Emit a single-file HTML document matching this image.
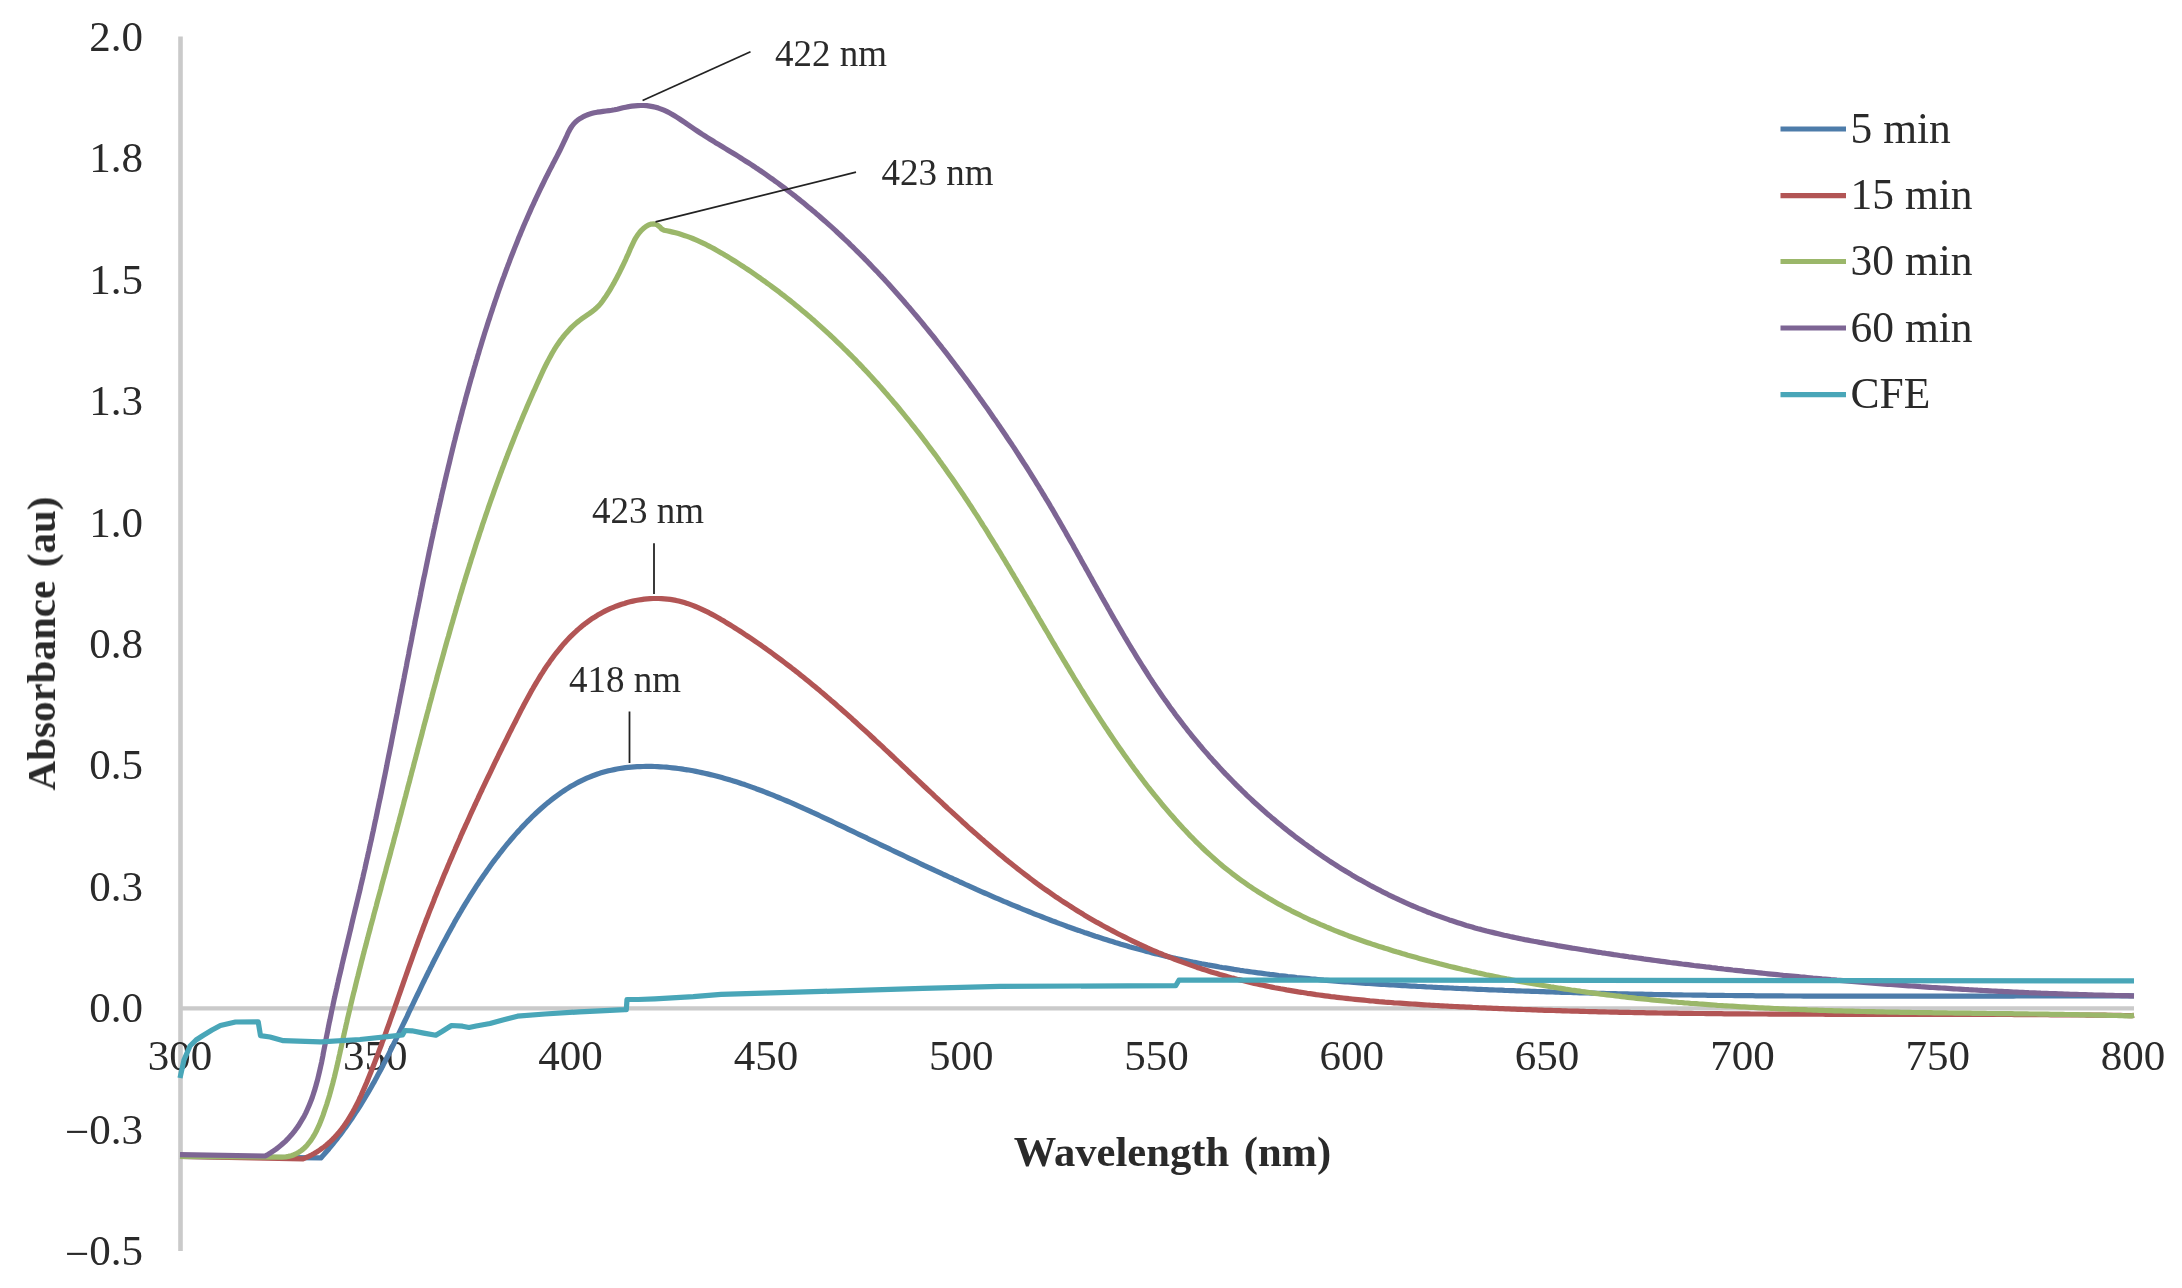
<!DOCTYPE html>
<html><head><meta charset="utf-8"><title>Absorbance spectra</title>
<style>html,body{margin:0;padding:0;background:#fff;overflow:hidden}svg{display:block}</style>
</head><body>
<svg width="2182" height="1288" viewBox="0 0 2182 1288">
<rect width="2182" height="1288" fill="#fff"/>
<defs><filter id="soft" x="-1%" y="-1%" width="102%" height="102%"><feGaussianBlur stdDeviation="0.7"/></filter></defs>
<g filter="url(#soft)">
<line x1="180.5" y1="36.5" x2="180.5" y2="1251" stroke="#cacaca" stroke-width="4.6"/>
<line x1="180" y1="1008.4" x2="2134" y2="1008.4" stroke="#cacaca" stroke-width="4.4"/>
<text x="143" y="51.0" text-anchor="end" font-family="'Liberation Serif', serif" font-size="43" fill="#2a2a2a">2.0</text>
<text x="143" y="172.4" text-anchor="end" font-family="'Liberation Serif', serif" font-size="43" fill="#2a2a2a">1.8</text>
<text x="143" y="293.8" text-anchor="end" font-family="'Liberation Serif', serif" font-size="43" fill="#2a2a2a">1.5</text>
<text x="143" y="415.2" text-anchor="end" font-family="'Liberation Serif', serif" font-size="43" fill="#2a2a2a">1.3</text>
<text x="143" y="536.6" text-anchor="end" font-family="'Liberation Serif', serif" font-size="43" fill="#2a2a2a">1.0</text>
<text x="143" y="658.0" text-anchor="end" font-family="'Liberation Serif', serif" font-size="43" fill="#2a2a2a">0.8</text>
<text x="143" y="779.4" text-anchor="end" font-family="'Liberation Serif', serif" font-size="43" fill="#2a2a2a">0.5</text>
<text x="143" y="900.8" text-anchor="end" font-family="'Liberation Serif', serif" font-size="43" fill="#2a2a2a">0.3</text>
<text x="143" y="1022.2" text-anchor="end" font-family="'Liberation Serif', serif" font-size="43" fill="#2a2a2a">0.0</text>
<text x="143" y="1143.6" text-anchor="end" font-family="'Liberation Serif', serif" font-size="43" fill="#2a2a2a"><tspan dy="2.5">−</tspan><tspan dy="-2.5">0.3</tspan></text>
<text x="143" y="1265.0" text-anchor="end" font-family="'Liberation Serif', serif" font-size="43" fill="#2a2a2a"><tspan dy="2.5">−</tspan><tspan dy="-2.5">0.5</tspan></text>
<text x="180.0" y="1070" text-anchor="middle" font-family="'Liberation Serif', serif" font-size="43" fill="#2a2a2a">300</text>
<text x="375.3" y="1070" text-anchor="middle" font-family="'Liberation Serif', serif" font-size="43" fill="#2a2a2a">350</text>
<text x="570.6" y="1070" text-anchor="middle" font-family="'Liberation Serif', serif" font-size="43" fill="#2a2a2a">400</text>
<text x="765.9" y="1070" text-anchor="middle" font-family="'Liberation Serif', serif" font-size="43" fill="#2a2a2a">450</text>
<text x="961.2" y="1070" text-anchor="middle" font-family="'Liberation Serif', serif" font-size="43" fill="#2a2a2a">500</text>
<text x="1156.5" y="1070" text-anchor="middle" font-family="'Liberation Serif', serif" font-size="43" fill="#2a2a2a">550</text>
<text x="1351.8" y="1070" text-anchor="middle" font-family="'Liberation Serif', serif" font-size="43" fill="#2a2a2a">600</text>
<text x="1547.1" y="1070" text-anchor="middle" font-family="'Liberation Serif', serif" font-size="43" fill="#2a2a2a">650</text>
<text x="1742.4" y="1070" text-anchor="middle" font-family="'Liberation Serif', serif" font-size="43" fill="#2a2a2a">700</text>
<text x="1937.7" y="1070" text-anchor="middle" font-family="'Liberation Serif', serif" font-size="43" fill="#2a2a2a">750</text>
<text x="2133.0" y="1070" text-anchor="middle" font-family="'Liberation Serif', serif" font-size="43" fill="#2a2a2a">800</text>
<text x="1172.5" y="1166" text-anchor="middle" font-family="'Liberation Serif', serif" font-size="42.6" font-weight="bold" word-spacing="4" fill="#2a2a2a">Wavelength (nm)</text>
<text transform="translate(55 643.5) rotate(-90)" x="0" y="0" text-anchor="middle" font-family="'Liberation Serif', serif" font-size="41" font-weight="bold" word-spacing="3.5" fill="#2a2a2a">Absorbance (au)</text>
<path d="M180.0 1156.5 L320.9 1157.9 L323.0 1155.6 L325.0 1153.3 L327.0 1151.0 L329.0 1148.7 L330.9 1146.4 L332.8 1144.1 L334.7 1141.7 L336.6 1139.4 L338.4 1137.0 L340.3 1134.6 L342.1 1132.2 L343.8 1129.8 L345.6 1127.4 L347.3 1125.0 L349.0 1122.6 L350.7 1120.1 L352.4 1117.7 L354.0 1115.2 L355.6 1112.7 L357.2 1110.3 L358.8 1107.8 L360.4 1105.3 L362.0 1102.7 L363.5 1100.2 L365.0 1097.7 L366.5 1095.2 L368.0 1092.6 L369.5 1090.1 L371.0 1087.5 L372.4 1084.9 L373.9 1082.4 L375.3 1079.8 L376.7 1077.2 L378.1 1074.6 L379.5 1072.0 L380.9 1069.4 L382.3 1066.8 L383.6 1064.1 L385.0 1061.5 L386.3 1058.9 L387.7 1056.2 L389.0 1053.6 L390.3 1050.9 L391.6 1048.3 L392.9 1045.6 L394.2 1043.0 L395.5 1040.3 L396.8 1037.6 L398.1 1035.0 L399.4 1032.3 L400.7 1029.6 L402.0 1026.9 L403.3 1024.2 L404.6 1021.5 L405.9 1018.8 L407.2 1016.1 L408.4 1013.4 L409.7 1010.7 L411.0 1008.0 L412.3 1005.3 L413.6 1002.6 L414.9 999.9 L416.2 997.2 L417.5 994.5 L418.8 991.8 L420.1 989.1 L421.4 986.4 L422.7 983.7 L424.0 981.0 L425.4 978.2 L426.7 975.5 L428.0 972.8 L429.4 970.1 L430.7 967.4 L432.1 964.7 L433.4 962.0 L434.8 959.3 L436.2 956.6 L437.6 953.9 L438.9 951.3 L440.3 948.6 L441.7 945.9 L443.1 943.2 L444.6 940.5 L446.0 937.9 L447.4 935.2 L448.9 932.5 L450.3 929.9 L451.8 927.2 L453.3 924.6 L454.7 921.9 L456.2 919.3 L457.7 916.7 L459.2 914.1 L460.8 911.5 L462.3 908.8 L463.9 906.2 L465.4 903.6 L467.0 901.1 L468.6 898.5 L470.2 895.9 L471.8 893.4 L473.4 890.8 L475.0 888.3 L476.7 885.7 L478.4 883.2 L480.0 880.7 L481.7 878.2 L483.4 875.7 L485.2 873.2 L486.9 870.7 L488.7 868.2 L490.4 865.8 L492.2 863.3 L494.0 860.9 L495.8 858.5 L497.7 856.1 L499.5 853.7 L501.4 851.3 L503.3 848.9 L505.2 846.5 L507.1 844.2 L509.1 841.8 L511.0 839.5 L513.0 837.2 L515.0 834.9 L517.0 832.6 L519.1 830.4 L521.1 828.1 L523.2 825.9 L525.3 823.7 L527.4 821.5 L529.6 819.4 L531.7 817.2 L533.9 815.1 L536.1 813.0 L538.3 811.0 L540.5 809.0 L542.8 807.0 L545.1 805.0 L547.3 803.1 L549.7 801.2 L552.0 799.4 L554.3 797.6 L556.7 795.8 L559.1 794.1 L561.5 792.4 L564.0 790.8 L566.4 789.2 L568.9 787.6 L571.4 786.1 L573.9 784.7 L576.4 783.3 L579.0 781.9 L581.6 780.6 L584.2 779.4 L586.8 778.2 L589.4 777.1 L592.1 776.0 L594.8 775.0 L597.5 774.0 L600.2 773.1 L602.9 772.3 L605.7 771.5 L608.5 770.8 L611.3 770.2 L614.1 769.6 L616.9 769.0 L619.8 768.5 L622.6 768.1 L625.5 767.7 L628.4 767.4 L631.3 767.1 L634.2 766.9 L637.1 766.7 L640.0 766.6 L643.0 766.5 L645.9 766.4 L648.8 766.4 L651.8 766.4 L654.7 766.5 L657.7 766.6 L660.6 766.8 L663.6 767.0 L666.5 767.2 L669.5 767.5 L672.5 767.8 L675.4 768.1 L678.3 768.5 L681.3 768.9 L684.2 769.4 L687.1 769.8 L690.1 770.3 L693.0 770.8 L695.9 771.4 L698.8 772.0 L701.7 772.6 L704.6 773.2 L707.5 773.9 L710.4 774.6 L713.3 775.3 L716.2 776.0 L719.1 776.8 L721.9 777.6 L724.8 778.4 L727.7 779.2 L730.5 780.1 L733.4 780.9 L736.2 781.8 L739.1 782.7 L741.9 783.7 L744.8 784.6 L747.6 785.6 L750.4 786.6 L753.3 787.6 L756.1 788.7 L758.9 789.7 L761.8 790.8 L764.6 791.9 L767.4 793.0 L770.2 794.1 L773.0 795.2 L775.8 796.3 L778.6 797.5 L781.4 798.7 L784.2 799.8 L787.0 801.0 L789.8 802.2 L792.6 803.4 L795.4 804.7 L798.1 805.9 L800.9 807.1 L803.7 808.4 L806.5 809.6 L809.3 810.9 L812.0 812.2 L814.8 813.4 L817.6 814.7 L820.3 816.0 L823.1 817.3 L825.9 818.6 L828.6 819.9 L831.4 821.2 L834.1 822.5 L836.9 823.8 L839.6 825.1 L842.4 826.4 L845.1 827.7 L847.9 829.1 L850.6 830.4 L853.4 831.7 L856.1 833.0 L858.9 834.3 L861.6 835.6 L864.4 836.9 L867.1 838.2 L869.8 839.6 L872.6 840.9 L875.3 842.2 L878.1 843.5 L880.8 844.8 L883.5 846.1 L886.3 847.4 L889.0 848.7 L891.7 850.0 L894.5 851.3 L897.2 852.6 L899.9 853.9 L902.7 855.2 L905.4 856.5 L908.1 857.8 L910.8 859.1 L913.6 860.4 L916.3 861.7 L919.0 863.0 L921.8 864.3 L924.5 865.6 L927.2 866.8 L930.0 868.1 L932.7 869.4 L935.4 870.7 L938.1 871.9 L940.9 873.2 L943.6 874.5 L946.3 875.7 L949.1 877.0 L951.8 878.2 L954.5 879.5 L957.3 880.7 L960.0 882.0 L962.7 883.2 L965.5 884.5 L968.2 885.7 L970.9 886.9 L973.7 888.1 L976.4 889.4 L979.1 890.6 L981.9 891.8 L984.6 893.0 L987.4 894.2 L990.1 895.4 L992.8 896.6 L995.6 897.8 L998.3 898.9 L1001.1 900.1 L1003.8 901.3 L1006.6 902.4 L1009.3 903.6 L1012.1 904.8 L1014.8 905.9 L1017.6 907.0 L1020.3 908.2 L1023.1 909.3 L1025.8 910.4 L1028.6 911.5 L1031.4 912.7 L1034.1 913.8 L1036.9 914.9 L1039.7 915.9 L1042.4 917.0 L1045.2 918.1 L1048.0 919.2 L1050.7 920.2 L1053.5 921.3 L1056.3 922.3 L1059.1 923.4 L1061.9 924.4 L1064.6 925.4 L1067.4 926.5 L1070.2 927.5 L1073.0 928.5 L1075.8 929.5 L1078.6 930.4 L1081.4 931.4 L1084.2 932.4 L1087.0 933.3 L1089.8 934.3 L1092.6 935.2 L1095.4 936.2 L1098.2 937.1 L1101.1 938.0 L1103.9 938.9 L1106.7 939.8 L1109.5 940.7 L1112.4 941.6 L1115.2 942.5 L1118.0 943.3 L1120.9 944.2 L1123.7 945.0 L1126.5 945.8 L1129.4 946.7 L1132.2 947.5 L1135.1 948.3 L1138.0 949.1 L1140.8 949.8 L1143.7 950.6 L1146.6 951.4 L1149.4 952.1 L1152.3 952.9 L1155.2 953.6 L1158.1 954.3 L1160.9 955.0 L1163.8 955.7 L1166.7 956.4 L1169.6 957.0 L1172.5 957.7 L1175.4 958.4 L1178.3 959.0 L1181.2 959.6 L1184.2 960.2 L1187.1 960.9 L1190.0 961.5 L1192.9 962.1 L1195.8 962.6 L1198.8 963.2 L1201.7 963.8 L1204.6 964.3 L1207.6 964.9 L1210.5 965.4 L1213.5 965.9 L1216.4 966.4 L1219.4 967.0 L1222.3 967.5 L1225.3 967.9 L1228.2 968.4 L1231.2 968.9 L1234.1 969.4 L1237.1 969.8 L1240.1 970.3 L1243.0 970.7 L1246.0 971.2 L1249.0 971.6 L1251.9 972.0 L1254.9 972.4 L1257.9 972.8 L1260.9 973.2 L1263.9 973.6 L1266.8 974.0 L1269.8 974.4 L1272.8 974.7 L1275.8 975.1 L1278.8 975.5 L1281.8 975.8 L1284.8 976.1 L1287.8 976.5 L1290.8 976.8 L1293.8 977.1 L1296.8 977.5 L1299.8 977.8 L1302.8 978.1 L1305.8 978.4 L1308.8 978.7 L1311.8 979.0 L1314.8 979.2 L1317.8 979.5 L1320.8 979.8 L1323.8 980.1 L1326.8 980.3 L1329.9 980.6 L1332.9 980.8 L1335.9 981.1 L1338.9 981.3 L1341.9 981.6 L1344.9 981.8 L1348.0 982.0 L1351.0 982.2 L1354.0 982.5 L1357.0 982.7 L1360.0 982.9 L1363.0 983.1 L1366.1 983.3 L1369.1 983.5 L1372.1 983.7 L1375.1 983.9 L1378.1 984.1 L1381.2 984.3 L1384.2 984.5 L1387.2 984.7 L1390.2 984.9 L1393.2 985.0 L1396.3 985.2 L1399.3 985.4 L1402.3 985.6 L1405.3 985.7 L1408.3 985.9 L1411.4 986.1 L1414.4 986.2 L1417.4 986.4 L1420.4 986.5 L1423.4 986.7 L1426.4 986.9 L1429.5 987.0 L1432.5 987.2 L1435.5 987.3 L1438.5 987.5 L1441.5 987.6 L1444.5 987.8 L1447.5 987.9 L1450.5 988.0 L1453.5 988.2 L1456.6 988.3 L1459.6 988.5 L1462.6 988.6 L1465.6 988.7 L1468.6 988.9 L1471.6 989.0 L1474.6 989.1 L1477.6 989.3 L1480.6 989.4 L1483.6 989.5 L1486.6 989.6 L1489.6 989.8 L1492.6 989.9 L1495.6 990.0 L1498.6 990.1 L1501.6 990.2 L1504.6 990.4 L1507.6 990.5 L1510.6 990.6 L1513.6 990.7 L1516.6 990.8 L1519.6 990.9 L1522.6 991.0 L1525.6 991.1 L1528.6 991.2 L1531.6 991.3 L1534.6 991.4 L1537.6 991.5 L1540.6 991.6 L1543.6 991.7 L1546.6 991.8 L1549.6 991.9 L1552.6 992.0 L1555.6 992.1 L1558.6 992.2 L1561.6 992.3 L1564.6 992.4 L1567.6 992.5 L1570.6 992.5 L1573.6 992.6 L1576.6 992.7 L1579.6 992.8 L1582.5 992.9 L1585.5 993.0 L1588.5 993.0 L1591.5 993.1 L1594.5 993.2 L1597.5 993.3 L1600.5 993.3 L1603.5 993.4 L1606.5 993.5 L1609.5 993.5 L1612.5 993.6 L1615.4 993.7 L1618.4 993.8 L1621.4 993.8 L1624.4 993.9 L1627.4 993.9 L1630.4 994.0 L1633.4 994.1 L1636.4 994.1 L1639.3 994.2 L1642.3 994.2 L1645.3 994.3 L1648.3 994.4 L1651.3 994.4 L1654.3 994.5 L1657.3 994.5 L1660.3 994.6 L1663.2 994.6 L1666.2 994.7 L1669.2 994.7 L1672.2 994.8 L1675.2 994.8 L1678.2 994.9 L1681.2 994.9 L1684.1 995.0 L1687.1 995.0 L1690.1 995.0 L1693.1 995.1 L1696.1 995.1 L1699.1 995.2 L1702.1 995.2 L1705.0 995.2 L1708.0 995.3 L1711.0 995.3 L1714.0 995.3 L1717.0 995.4 L1720.0 995.4 L1723.0 995.4 L1725.9 995.5 L1728.9 995.5 L1731.9 995.5 L1734.9 995.6 L1737.9 995.6 L1740.9 995.6 L1743.8 995.7 L1746.8 995.7 L1749.8 995.7 L1752.8 995.7 L1755.8 995.8 L1758.8 995.8 L1761.8 995.8 L1764.7 995.8 L1767.7 995.8 L1770.7 995.9 L1773.7 995.9 L1776.7 995.9 L1779.7 995.9 L1782.7 995.9 L1785.6 996.0 L1788.6 996.0 L1791.6 996.0 L1794.6 996.0 L1797.6 996.0 L1800.6 996.0 L1803.6 996.1 L1806.5 996.1 L1809.5 996.1 L1812.5 996.1 L1815.5 996.1 L1818.5 996.1 L1821.5 996.1 L1824.5 996.1 L1827.5 996.1 L1830.4 996.2 L1833.4 996.2 L1836.4 996.2 L1839.4 996.2 L1842.4 996.2 L1845.4 996.2 L1848.4 996.2 L1851.4 996.2 L1854.4 996.2 L1857.3 996.2 L1860.3 996.2 L1863.3 996.2 L1866.3 996.2 L1869.3 996.2 L1872.3 996.2 L1875.3 996.2 L1878.3 996.2 L1881.3 996.2 L1884.3 996.2 L1887.3 996.2 L1890.3 996.2 L1893.2 996.2 L1896.2 996.2 L1899.2 996.2 L1902.2 996.2 L1905.2 996.2 L1908.2 996.2 L1911.2 996.2 L1914.2 996.2 L1917.2 996.2 L1920.2 996.2 L1923.2 996.2 L1926.2 996.2 L1929.2 996.2 L1932.2 996.2 L1935.2 996.2 L1938.2 996.2 L1941.2 996.2 L1944.2 996.2 L1947.2 996.2 L1950.2 996.2 L1953.2 996.2 L1956.2 996.2 L1959.2 996.2 L1962.2 996.2 L1965.2 996.2 L1968.2 996.2 L1971.2 996.1 L1974.2 996.1 L1977.2 996.1 L1980.2 996.1 L1983.2 996.1 L1986.2 996.1 L1989.2 996.1 L1992.2 996.1 L1995.3 996.1 L1998.3 996.1 L2001.3 996.1 L2004.3 996.1 L2007.3 996.1 L2010.3 996.1 L2013.3 996.1 L2016.3 996.0 L2019.3 996.0 L2022.3 996.0 L2025.4 996.0 L2028.4 996.0 L2031.4 996.0 L2034.4 996.0 L2037.4 996.0 L2040.4 996.0 L2043.4 996.0 L2046.5 996.0 L2049.5 996.0 L2052.5 996.0 L2055.5 996.0 L2058.5 996.0 L2061.6 996.0 L2064.6 996.0 L2067.6 995.9 L2070.6 995.9 L2073.7 995.9 L2076.7 995.9 L2079.7 995.9 L2082.7 995.9 L2085.7 995.9 L2088.8 995.9 L2091.8 995.9 L2094.8 995.9 L2097.9 995.9 L2100.9 995.9 L2103.9 995.9 L2106.9 995.9 L2110.0 995.9 L2113.0 995.9 L2116.0 995.9 L2119.1 995.9 L2122.1 995.9 L2125.2 995.9 L2128.2 995.9 L2131.2 995.9 L2134.0 996.0" fill="none" stroke="#4e7caa" stroke-width="5.2" stroke-linejoin="round" stroke-linecap="butt"/>
<path d="M180.0 1156.5 L303.0 1158.9 L305.9 1157.7 L308.8 1156.4 L311.5 1155.0 L314.2 1153.5 L316.7 1152.0 L319.2 1150.4 L321.6 1148.7 L324.0 1147.0 L326.2 1145.2 L328.4 1143.3 L330.5 1141.4 L332.6 1139.4 L334.6 1137.3 L336.5 1135.2 L338.4 1133.1 L340.2 1130.9 L342.0 1128.6 L343.7 1126.3 L345.3 1124.0 L347.0 1121.6 L348.5 1119.1 L350.0 1116.7 L351.5 1114.2 L353.0 1111.6 L354.4 1109.0 L355.7 1106.4 L357.1 1103.8 L358.4 1101.2 L359.6 1098.5 L360.9 1095.8 L362.1 1093.0 L363.3 1090.3 L364.5 1087.6 L365.7 1084.8 L366.9 1082.0 L368.0 1079.2 L369.1 1076.4 L370.3 1073.6 L371.4 1070.8 L372.5 1068.0 L373.6 1065.2 L374.7 1062.3 L375.8 1059.5 L376.9 1056.7 L378.0 1053.8 L379.0 1051.0 L380.1 1048.1 L381.2 1045.3 L382.2 1042.4 L383.3 1039.6 L384.3 1036.7 L385.4 1033.9 L386.4 1031.0 L387.4 1028.1 L388.5 1025.3 L389.5 1022.4 L390.5 1019.5 L391.5 1016.6 L392.5 1013.8 L393.6 1010.9 L394.6 1008.0 L395.6 1005.1 L396.6 1002.3 L397.6 999.4 L398.6 996.5 L399.6 993.7 L400.6 990.8 L401.6 987.9 L402.6 985.1 L403.6 982.2 L404.6 979.3 L405.6 976.5 L406.6 973.6 L407.6 970.8 L408.6 967.9 L409.6 965.1 L410.7 962.2 L411.7 959.4 L412.7 956.5 L413.7 953.7 L414.7 950.9 L415.7 948.1 L416.8 945.3 L417.8 942.4 L418.8 939.6 L419.9 936.8 L420.9 934.0 L421.9 931.3 L423.0 928.5 L424.0 925.7 L425.1 922.9 L426.1 920.1 L427.2 917.4 L428.3 914.6 L429.3 911.9 L430.4 909.1 L431.5 906.4 L432.6 903.6 L433.7 900.9 L434.7 898.1 L435.8 895.4 L436.9 892.7 L438.0 889.9 L439.1 887.2 L440.3 884.5 L441.4 881.8 L442.5 879.0 L443.6 876.3 L444.7 873.6 L445.9 870.9 L447.0 868.2 L448.1 865.5 L449.3 862.8 L450.4 860.1 L451.6 857.4 L452.7 854.7 L453.9 852.0 L455.1 849.3 L456.2 846.6 L457.4 843.9 L458.6 841.2 L459.8 838.5 L460.9 835.8 L462.1 833.1 L463.3 830.4 L464.5 827.8 L465.7 825.1 L467.0 822.4 L468.2 819.7 L469.4 817.0 L470.6 814.3 L471.8 811.6 L473.1 808.9 L474.3 806.2 L475.6 803.5 L476.8 800.8 L478.1 798.1 L479.3 795.4 L480.6 792.7 L481.9 790.0 L483.1 787.3 L484.4 784.6 L485.7 781.9 L487.0 779.2 L488.3 776.5 L489.6 773.8 L490.9 771.1 L492.2 768.4 L493.5 765.6 L494.8 762.9 L496.1 760.2 L497.5 757.5 L498.8 754.7 L500.1 752.0 L501.5 749.3 L502.8 746.5 L504.2 743.8 L505.6 741.0 L506.9 738.3 L508.3 735.5 L509.7 732.7 L511.1 730.0 L512.5 727.2 L513.9 724.4 L515.3 721.7 L516.7 718.9 L518.1 716.1 L519.5 713.3 L520.9 710.5 L522.4 707.8 L523.8 705.0 L525.3 702.2 L526.8 699.5 L528.3 696.7 L529.8 694.0 L531.3 691.2 L532.9 688.5 L534.4 685.8 L536.0 683.1 L537.6 680.5 L539.2 677.8 L540.8 675.2 L542.5 672.6 L544.1 670.0 L545.8 667.4 L547.5 664.9 L549.3 662.4 L551.0 659.9 L552.8 657.4 L554.6 655.0 L556.5 652.6 L558.4 650.3 L560.3 648.0 L562.2 645.7 L564.1 643.4 L566.1 641.2 L568.2 639.0 L570.2 636.9 L572.3 634.8 L574.4 632.8 L576.6 630.8 L578.8 628.9 L581.0 627.0 L583.3 625.1 L585.6 623.3 L587.9 621.6 L590.3 619.9 L592.7 618.2 L595.2 616.7 L597.7 615.1 L600.2 613.7 L602.8 612.3 L605.4 610.9 L608.0 609.7 L610.7 608.4 L613.4 607.3 L616.1 606.2 L618.8 605.2 L621.6 604.2 L624.4 603.4 L627.2 602.5 L630.0 601.8 L632.9 601.1 L635.7 600.5 L638.6 600.0 L641.4 599.6 L644.3 599.2 L647.2 598.9 L650.1 598.7 L653.0 598.5 L655.8 598.5 L658.7 598.5 L661.6 598.6 L664.5 598.8 L667.4 599.1 L670.2 599.4 L673.1 599.9 L675.9 600.4 L678.7 601.1 L681.5 601.8 L684.3 602.6 L687.1 603.4 L689.9 604.4 L692.6 605.4 L695.4 606.5 L698.1 607.6 L700.8 608.8 L703.5 610.1 L706.2 611.4 L708.9 612.7 L711.5 614.1 L714.2 615.6 L716.8 617.0 L719.5 618.5 L722.1 620.1 L724.7 621.6 L727.3 623.2 L729.9 624.8 L732.5 626.4 L735.0 628.0 L737.6 629.6 L740.2 631.3 L742.7 632.9 L745.2 634.6 L747.7 636.2 L750.3 637.9 L752.8 639.6 L755.3 641.3 L757.7 643.0 L760.2 644.7 L762.7 646.5 L765.1 648.2 L767.6 650.0 L770.0 651.7 L772.5 653.5 L774.9 655.3 L777.3 657.1 L779.7 658.9 L782.1 660.7 L784.5 662.5 L786.9 664.3 L789.3 666.1 L791.7 668.0 L794.1 669.8 L796.4 671.7 L798.8 673.5 L801.1 675.4 L803.5 677.3 L805.8 679.2 L808.1 681.1 L810.5 683.0 L812.8 684.9 L815.1 686.8 L817.4 688.7 L819.7 690.6 L822.0 692.6 L824.3 694.5 L826.6 696.5 L828.9 698.4 L831.1 700.4 L833.4 702.3 L835.7 704.3 L837.9 706.3 L840.2 708.3 L842.4 710.2 L844.7 712.2 L846.9 714.2 L849.2 716.2 L851.4 718.2 L853.6 720.3 L855.9 722.3 L858.1 724.3 L860.3 726.3 L862.5 728.3 L864.8 730.4 L867.0 732.4 L869.2 734.4 L871.4 736.5 L873.6 738.5 L875.8 740.6 L878.0 742.6 L880.2 744.7 L882.4 746.7 L884.6 748.8 L886.8 750.8 L889.0 752.9 L891.2 755.0 L893.4 757.0 L895.5 759.1 L897.7 761.2 L899.9 763.2 L902.1 765.3 L904.3 767.4 L906.5 769.4 L908.6 771.5 L910.8 773.6 L913.0 775.6 L915.2 777.7 L917.4 779.8 L919.6 781.9 L921.7 783.9 L923.9 786.0 L926.1 788.0 L928.3 790.1 L930.5 792.2 L932.7 794.2 L934.9 796.3 L937.1 798.3 L939.3 800.4 L941.5 802.4 L943.6 804.5 L945.8 806.5 L948.0 808.6 L950.3 810.6 L952.5 812.6 L954.7 814.7 L956.9 816.7 L959.1 818.7 L961.3 820.7 L963.5 822.8 L965.8 824.8 L968.0 826.8 L970.2 828.8 L972.4 830.7 L974.7 832.7 L976.9 834.7 L979.2 836.7 L981.4 838.7 L983.7 840.6 L985.9 842.6 L988.2 844.5 L990.5 846.5 L992.7 848.4 L995.0 850.3 L997.3 852.2 L999.6 854.2 L1001.9 856.1 L1004.2 858.0 L1006.5 859.9 L1008.8 861.7 L1011.1 863.6 L1013.5 865.5 L1015.8 867.3 L1018.1 869.2 L1020.5 871.0 L1022.8 872.8 L1025.2 874.6 L1027.6 876.4 L1029.9 878.2 L1032.3 880.0 L1034.7 881.8 L1037.1 883.6 L1039.5 885.3 L1041.9 887.1 L1044.3 888.8 L1046.8 890.5 L1049.2 892.2 L1051.6 893.9 L1054.1 895.6 L1056.5 897.3 L1059.0 898.9 L1061.5 900.6 L1064.0 902.2 L1066.5 903.8 L1069.0 905.4 L1071.5 907.0 L1074.0 908.6 L1076.5 910.2 L1079.0 911.8 L1081.6 913.3 L1084.1 914.9 L1086.7 916.4 L1089.2 917.9 L1091.8 919.4 L1094.4 920.9 L1097.0 922.4 L1099.6 923.8 L1102.1 925.3 L1104.8 926.7 L1107.4 928.1 L1110.0 929.5 L1112.6 930.9 L1115.2 932.3 L1117.9 933.7 L1120.5 935.0 L1123.2 936.4 L1125.8 937.7 L1128.5 939.0 L1131.2 940.3 L1133.8 941.6 L1136.5 942.9 L1139.2 944.2 L1141.9 945.4 L1144.6 946.6 L1147.3 947.9 L1150.0 949.1 L1152.8 950.3 L1155.5 951.4 L1158.2 952.6 L1161.0 953.7 L1163.7 954.9 L1166.5 956.0 L1169.2 957.1 L1172.0 958.2 L1174.7 959.3 L1177.5 960.3 L1180.3 961.4 L1183.1 962.4 L1185.9 963.4 L1188.7 964.4 L1191.5 965.4 L1194.3 966.4 L1197.1 967.4 L1199.9 968.3 L1202.7 969.2 L1205.6 970.1 L1208.4 971.0 L1211.2 971.9 L1214.1 972.8 L1216.9 973.6 L1219.8 974.5 L1222.6 975.3 L1225.5 976.1 L1228.4 976.9 L1231.2 977.7 L1234.1 978.4 L1237.0 979.2 L1239.9 979.9 L1242.7 980.6 L1245.6 981.3 L1248.5 982.0 L1251.4 982.7 L1254.3 983.4 L1257.2 984.0 L1260.2 984.7 L1263.1 985.3 L1266.0 985.9 L1268.9 986.5 L1271.8 987.1 L1274.8 987.7 L1277.7 988.2 L1280.6 988.8 L1283.6 989.3 L1286.5 989.9 L1289.5 990.4 L1292.4 990.9 L1295.4 991.4 L1298.3 991.9 L1301.3 992.3 L1304.3 992.8 L1307.2 993.3 L1310.2 993.7 L1313.2 994.1 L1316.1 994.6 L1319.1 995.0 L1322.1 995.4 L1325.1 995.8 L1328.0 996.2 L1331.0 996.6 L1334.0 996.9 L1337.0 997.3 L1340.0 997.7 L1343.0 998.0 L1346.0 998.3 L1349.0 998.7 L1352.0 999.0 L1355.0 999.3 L1358.0 999.6 L1361.0 999.9 L1364.0 1000.2 L1367.0 1000.5 L1370.0 1000.8 L1373.0 1001.0 L1376.0 1001.3 L1379.0 1001.6 L1382.0 1001.8 L1385.0 1002.1 L1388.1 1002.3 L1391.1 1002.5 L1394.1 1002.8 L1397.1 1003.0 L1400.1 1003.2 L1403.1 1003.4 L1406.2 1003.6 L1409.2 1003.8 L1412.2 1004.0 L1415.2 1004.2 L1418.2 1004.4 L1421.2 1004.6 L1424.3 1004.8 L1427.3 1005.0 L1430.3 1005.2 L1433.3 1005.3 L1436.3 1005.5 L1439.4 1005.7 L1442.4 1005.8 L1445.4 1006.0 L1448.4 1006.2 L1451.4 1006.3 L1454.5 1006.5 L1457.5 1006.6 L1460.5 1006.8 L1463.5 1006.9 L1466.5 1007.1 L1469.5 1007.2 L1472.6 1007.4 L1475.6 1007.5 L1478.6 1007.7 L1481.6 1007.8 L1484.6 1007.9 L1487.6 1008.1 L1490.6 1008.2 L1493.6 1008.3 L1496.6 1008.4 L1499.7 1008.6 L1502.7 1008.7 L1505.7 1008.8 L1508.7 1008.9 L1511.7 1009.1 L1514.7 1009.2 L1517.7 1009.3 L1520.7 1009.4 L1523.7 1009.5 L1526.7 1009.6 L1529.7 1009.7 L1532.7 1009.8 L1535.7 1009.9 L1538.7 1010.1 L1541.7 1010.2 L1544.7 1010.3 L1547.7 1010.4 L1550.7 1010.4 L1553.7 1010.5 L1556.7 1010.6 L1559.7 1010.7 L1562.7 1010.8 L1565.7 1010.9 L1568.7 1011.0 L1571.7 1011.1 L1574.7 1011.2 L1577.7 1011.2 L1580.7 1011.3 L1583.7 1011.4 L1586.7 1011.5 L1589.7 1011.6 L1592.7 1011.6 L1595.7 1011.7 L1598.7 1011.8 L1601.7 1011.9 L1604.7 1011.9 L1607.7 1012.0 L1610.7 1012.1 L1613.7 1012.1 L1616.7 1012.2 L1619.7 1012.3 L1622.7 1012.3 L1625.7 1012.4 L1628.7 1012.4 L1631.6 1012.5 L1634.6 1012.6 L1637.6 1012.6 L1640.6 1012.7 L1643.6 1012.7 L1646.6 1012.8 L1649.6 1012.8 L1652.6 1012.9 L1655.6 1012.9 L1658.6 1013.0 L1661.6 1013.0 L1664.6 1013.1 L1667.5 1013.1 L1670.5 1013.1 L1673.5 1013.2 L1676.5 1013.2 L1679.5 1013.3 L1682.5 1013.3 L1685.5 1013.3 L1688.5 1013.4 L1691.5 1013.4 L1694.4 1013.5 L1697.4 1013.5 L1700.4 1013.5 L1703.4 1013.5 L1706.4 1013.6 L1709.4 1013.6 L1712.4 1013.6 L1715.4 1013.7 L1718.4 1013.7 L1721.3 1013.7 L1724.3 1013.8 L1727.3 1013.8 L1730.3 1013.8 L1733.3 1013.8 L1736.3 1013.8 L1739.3 1013.9 L1742.3 1013.9 L1745.2 1013.9 L1748.2 1013.9 L1751.2 1014.0 L1754.2 1014.0 L1757.2 1014.0 L1760.2 1014.0 L1763.2 1014.0 L1766.2 1014.0 L1769.1 1014.1 L1772.1 1014.1 L1775.1 1014.1 L1778.1 1014.1 L1781.1 1014.1 L1784.1 1014.1 L1787.1 1014.1 L1790.1 1014.1 L1793.0 1014.2 L1796.0 1014.2 L1799.0 1014.2 L1802.0 1014.2 L1805.0 1014.2 L1808.0 1014.2 L1811.0 1014.2 L1814.0 1014.2 L1816.9 1014.2 L1819.9 1014.2 L1822.9 1014.2 L1825.9 1014.3 L1828.9 1014.3 L1831.9 1014.3 L1834.9 1014.3 L1837.9 1014.3 L1840.9 1014.3 L1843.8 1014.3 L1846.8 1014.3 L1849.8 1014.3 L1852.8 1014.3 L1855.8 1014.3 L1858.8 1014.3 L1861.8 1014.3 L1864.8 1014.3 L1867.8 1014.3 L1870.8 1014.3 L1873.8 1014.3 L1876.7 1014.3 L1879.7 1014.3 L1882.7 1014.3 L1885.7 1014.3 L1888.7 1014.3 L1891.7 1014.3 L1894.7 1014.3 L1897.7 1014.3 L1900.7 1014.3 L1903.7 1014.3 L1906.7 1014.3 L1909.7 1014.3 L1912.7 1014.3 L1915.7 1014.4 L1918.7 1014.4 L1921.6 1014.4 L1924.6 1014.4 L1927.6 1014.4 L1930.6 1014.4 L1933.6 1014.4 L1936.6 1014.4 L1939.6 1014.4 L1942.6 1014.4 L1945.6 1014.4 L1948.6 1014.4 L1951.6 1014.4 L1954.6 1014.4 L1957.6 1014.4 L1960.6 1014.4 L1963.6 1014.4 L1966.6 1014.4 L1969.6 1014.4 L1972.6 1014.4 L1975.6 1014.4 L1978.6 1014.4 L1981.6 1014.5 L1984.6 1014.5 L1987.6 1014.5 L1990.6 1014.5 L1993.6 1014.5 L1996.6 1014.5 L1999.7 1014.5 L2002.7 1014.5 L2005.7 1014.5 L2008.7 1014.5 L2011.7 1014.5 L2014.7 1014.6 L2017.7 1014.6 L2020.7 1014.6 L2023.7 1014.6 L2026.7 1014.6 L2029.7 1014.6 L2032.7 1014.6 L2035.8 1014.7 L2038.8 1014.7 L2041.8 1014.7 L2044.8 1014.7 L2047.8 1014.7 L2050.8 1014.8 L2053.8 1014.8 L2056.8 1014.8 L2059.9 1014.8 L2062.9 1014.8 L2065.9 1014.9 L2068.9 1014.9 L2071.9 1014.9 L2074.9 1014.9 L2078.0 1015.0 L2081.0 1015.0 L2084.0 1015.0 L2087.0 1015.1 L2090.0 1015.1 L2093.1 1015.1 L2096.1 1015.1 L2099.1 1015.2 L2102.1 1015.2 L2105.2 1015.2 L2108.2 1015.3 L2111.2 1015.3 L2114.2 1015.4 L2117.3 1015.4 L2120.3 1015.4 L2123.3 1015.5 L2126.4 1015.5 L2129.4 1015.6 L2132.4 1015.6 L2134.0 1015.3" fill="none" stroke="#b25554" stroke-width="5.2" stroke-linejoin="round" stroke-linecap="butt"/>
<path d="M180.0 1156.5 L282.3 1157.2 L285.5 1157.0 L288.4 1156.4 L291.3 1155.7 L294.0 1154.7 L296.5 1153.6 L298.9 1152.2 L301.2 1150.6 L303.4 1148.9 L305.4 1147.0 L307.3 1144.9 L309.1 1142.7 L310.9 1140.4 L312.5 1137.9 L314.0 1135.4 L315.5 1132.7 L316.9 1130.0 L318.2 1127.2 L319.5 1124.4 L320.6 1121.5 L321.8 1118.5 L322.9 1115.6 L323.9 1112.6 L324.9 1109.7 L325.9 1106.7 L326.9 1103.8 L327.8 1100.8 L328.7 1097.9 L329.6 1094.9 L330.4 1092.0 L331.2 1089.0 L332.0 1086.1 L332.8 1083.2 L333.5 1080.3 L334.3 1077.3 L335.0 1074.4 L335.7 1071.5 L336.4 1068.6 L337.1 1065.7 L337.7 1062.8 L338.4 1059.8 L339.0 1056.9 L339.7 1054.0 L340.3 1051.1 L341.0 1048.2 L341.6 1045.3 L342.2 1042.4 L342.9 1039.5 L343.5 1036.6 L344.2 1033.7 L344.8 1030.8 L345.5 1027.9 L346.1 1025.0 L346.8 1022.1 L347.4 1019.2 L348.1 1016.3 L348.8 1013.4 L349.5 1010.5 L350.2 1007.6 L350.8 1004.7 L351.5 1001.8 L352.2 998.9 L352.9 996.0 L353.6 993.1 L354.4 990.2 L355.1 987.3 L355.8 984.4 L356.5 981.5 L357.2 978.6 L358.0 975.7 L358.7 972.8 L359.4 969.9 L360.2 967.0 L360.9 964.1 L361.6 961.2 L362.4 958.3 L363.1 955.4 L363.9 952.5 L364.6 949.6 L365.4 946.7 L366.2 943.8 L366.9 940.9 L367.7 938.0 L368.4 935.1 L369.2 932.2 L370.0 929.3 L370.7 926.4 L371.5 923.5 L372.3 920.6 L373.1 917.7 L373.8 914.8 L374.6 911.9 L375.4 909.0 L376.2 906.1 L376.9 903.2 L377.7 900.3 L378.5 897.4 L379.3 894.5 L380.1 891.6 L380.9 888.7 L381.6 885.7 L382.4 882.8 L383.2 879.9 L384.0 877.0 L384.8 874.1 L385.6 871.2 L386.3 868.3 L387.1 865.4 L387.9 862.5 L388.7 859.6 L389.5 856.7 L390.3 853.8 L391.0 850.9 L391.8 848.0 L392.6 845.1 L393.4 842.2 L394.1 839.3 L394.9 836.4 L395.7 833.5 L396.5 830.6 L397.2 827.7 L398.0 824.8 L398.8 821.9 L399.5 819.0 L400.3 816.1 L401.1 813.2 L401.8 810.3 L402.6 807.4 L403.4 804.4 L404.1 801.5 L404.9 798.6 L405.7 795.7 L406.4 792.8 L407.2 789.9 L407.9 787.0 L408.7 784.1 L409.5 781.2 L410.2 778.3 L411.0 775.4 L411.7 772.5 L412.5 769.6 L413.3 766.7 L414.0 763.8 L414.8 760.9 L415.6 758.0 L416.3 755.1 L417.1 752.2 L417.8 749.3 L418.6 746.4 L419.4 743.5 L420.1 740.6 L420.9 737.7 L421.7 734.8 L422.4 731.8 L423.2 728.9 L423.9 726.0 L424.7 723.1 L425.5 720.2 L426.3 717.3 L427.0 714.4 L427.8 711.6 L428.6 708.7 L429.3 705.8 L430.1 702.9 L430.9 700.0 L431.7 697.1 L432.4 694.2 L433.2 691.3 L434.0 688.4 L434.8 685.5 L435.6 682.6 L436.4 679.7 L437.1 676.8 L437.9 673.9 L438.7 671.0 L439.5 668.1 L440.3 665.2 L441.1 662.4 L441.9 659.5 L442.7 656.6 L443.5 653.7 L444.3 650.8 L445.1 647.9 L445.9 645.0 L446.7 642.1 L447.5 639.3 L448.4 636.4 L449.2 633.5 L450.0 630.6 L450.8 627.7 L451.6 624.9 L452.5 622.0 L453.3 619.1 L454.1 616.2 L455.0 613.3 L455.8 610.5 L456.6 607.6 L457.5 604.7 L458.3 601.9 L459.2 599.0 L460.0 596.1 L460.9 593.2 L461.8 590.4 L462.6 587.5 L463.5 584.6 L464.4 581.8 L465.2 578.9 L466.1 576.0 L467.0 573.2 L467.9 570.3 L468.8 567.5 L469.7 564.6 L470.6 561.7 L471.4 558.9 L472.4 556.0 L473.3 553.2 L474.2 550.3 L475.1 547.5 L476.0 544.6 L476.9 541.8 L477.9 538.9 L478.8 536.1 L479.7 533.2 L480.7 530.4 L481.6 527.6 L482.5 524.7 L483.5 521.9 L484.5 519.0 L485.4 516.2 L486.4 513.4 L487.4 510.5 L488.3 507.7 L489.3 504.9 L490.3 502.0 L491.3 499.2 L492.3 496.4 L493.3 493.6 L494.3 490.7 L495.3 487.9 L496.3 485.1 L497.3 482.3 L498.4 479.4 L499.4 476.6 L500.4 473.8 L501.5 471.0 L502.5 468.2 L503.6 465.4 L504.6 462.6 L505.7 459.8 L506.8 457.0 L507.8 454.2 L508.9 451.4 L510.0 448.6 L511.1 445.8 L512.2 443.0 L513.3 440.2 L514.4 437.4 L515.5 434.6 L516.6 431.8 L517.8 429.0 L518.9 426.2 L520.0 423.4 L521.2 420.7 L522.3 417.9 L523.5 415.1 L524.7 412.3 L525.9 409.5 L527.0 406.8 L528.2 404.0 L529.4 401.2 L530.6 398.5 L531.8 395.7 L533.0 392.9 L534.3 390.2 L535.5 387.4 L536.7 384.7 L538.0 381.9 L539.2 379.2 L540.5 376.4 L541.7 373.7 L543.0 370.9 L544.3 368.2 L545.6 365.5 L547.0 362.8 L548.4 360.1 L549.8 357.5 L551.2 354.9 L552.7 352.3 L554.2 349.7 L555.8 347.2 L557.4 344.7 L559.1 342.2 L560.8 339.8 L562.6 337.5 L564.5 335.2 L566.4 332.9 L568.4 330.7 L570.4 328.5 L572.6 326.4 L574.8 324.4 L577.1 322.4 L579.5 320.5 L581.9 318.7 L584.5 316.9 L587.0 315.2 L589.6 313.4 L592.0 311.6 L594.4 309.7 L596.7 307.7 L598.9 305.6 L600.8 303.4 L602.6 301.0 L604.3 298.6 L606.0 296.1 L607.6 293.6 L609.2 291.1 L610.7 288.6 L612.2 286.0 L613.7 283.4 L615.1 280.8 L616.5 278.2 L617.9 275.6 L619.3 272.9 L620.6 270.2 L621.9 267.5 L623.2 264.8 L624.5 262.1 L625.8 259.3 L627.0 256.5 L628.3 253.8 L629.5 250.9 L630.7 248.1 L632.0 245.3 L633.3 242.6 L634.6 239.9 L636.1 237.3 L637.7 234.8 L639.5 232.5 L641.4 230.3 L643.5 228.3 L645.9 226.5 L648.5 225.0 L651.3 224.1 L654.2 223.9 L657.1 224.9 L659.7 226.8 L661.6 228.9 L664.0 230.2 L666.8 230.8 L669.8 231.4 L672.7 232.1 L675.6 232.8 L678.5 233.6 L681.4 234.5 L684.2 235.4 L687.1 236.4 L689.9 237.4 L692.7 238.5 L695.4 239.7 L698.2 240.9 L700.9 242.1 L703.6 243.4 L706.3 244.7 L709.0 246.1 L711.7 247.5 L714.3 248.9 L717.0 250.4 L719.6 251.9 L722.2 253.4 L724.8 255.0 L727.4 256.5 L730.0 258.1 L732.5 259.7 L735.1 261.3 L737.6 262.9 L740.2 264.6 L742.7 266.2 L745.2 267.9 L747.7 269.5 L750.2 271.2 L752.7 272.9 L755.2 274.6 L757.6 276.3 L760.1 278.0 L762.5 279.8 L765.0 281.5 L767.4 283.3 L769.8 285.0 L772.2 286.8 L774.6 288.6 L777.0 290.4 L779.4 292.2 L781.8 294.1 L784.2 295.9 L786.5 297.7 L788.9 299.6 L791.2 301.4 L793.5 303.3 L795.8 305.2 L798.1 307.1 L800.4 309.0 L802.7 310.9 L805.0 312.8 L807.3 314.8 L809.6 316.7 L811.8 318.7 L814.1 320.6 L816.3 322.6 L818.5 324.6 L820.8 326.6 L823.0 328.6 L825.2 330.6 L827.4 332.6 L829.6 334.6 L831.7 336.7 L833.9 338.7 L836.1 340.8 L838.2 342.8 L840.4 344.9 L842.5 347.0 L844.6 349.1 L846.8 351.2 L848.9 353.3 L851.0 355.4 L853.1 357.5 L855.2 359.6 L857.2 361.8 L859.3 363.9 L861.4 366.1 L863.4 368.3 L865.5 370.4 L867.5 372.6 L869.5 374.8 L871.6 377.0 L873.6 379.2 L875.6 381.4 L877.6 383.6 L879.6 385.9 L881.6 388.1 L883.5 390.3 L885.5 392.6 L887.5 394.8 L889.4 397.1 L891.4 399.4 L893.3 401.7 L895.3 403.9 L897.2 406.2 L899.1 408.5 L901.0 410.8 L902.9 413.1 L904.8 415.5 L906.7 417.8 L908.6 420.1 L910.5 422.5 L912.3 424.8 L914.2 427.2 L916.0 429.5 L917.9 431.9 L919.7 434.2 L921.6 436.6 L923.4 439.0 L925.2 441.4 L927.0 443.8 L928.8 446.2 L930.6 448.6 L932.4 451.0 L934.2 453.4 L936.0 455.8 L937.8 458.2 L939.5 460.7 L941.3 463.1 L943.0 465.6 L944.8 468.0 L946.5 470.5 L948.2 472.9 L950.0 475.4 L951.7 477.8 L953.4 480.3 L955.1 482.8 L956.8 485.3 L958.5 487.8 L960.2 490.3 L961.9 492.7 L963.6 495.2 L965.2 497.8 L966.9 500.3 L968.6 502.8 L970.2 505.3 L971.9 507.8 L973.5 510.3 L975.1 512.9 L976.8 515.4 L978.4 517.9 L980.0 520.5 L981.6 523.0 L983.2 525.6 L984.9 528.1 L986.5 530.7 L988.0 533.2 L989.6 535.8 L991.2 538.3 L992.8 540.9 L994.4 543.5 L996.0 546.0 L997.5 548.6 L999.1 551.2 L1000.7 553.7 L1002.2 556.3 L1003.8 558.9 L1005.4 561.5 L1006.9 564.1 L1008.5 566.6 L1010.0 569.2 L1011.5 571.8 L1013.1 574.4 L1014.6 577.0 L1016.2 579.6 L1017.7 582.2 L1019.2 584.8 L1020.8 587.4 L1022.3 590.0 L1023.8 592.5 L1025.3 595.1 L1026.9 597.7 L1028.4 600.3 L1029.9 602.9 L1031.4 605.5 L1033.0 608.1 L1034.5 610.7 L1036.0 613.3 L1037.5 615.9 L1039.0 618.5 L1040.6 621.1 L1042.1 623.7 L1043.6 626.3 L1045.1 628.9 L1046.7 631.5 L1048.2 634.0 L1049.7 636.6 L1051.2 639.2 L1052.7 641.8 L1054.3 644.4 L1055.8 647.0 L1057.3 649.5 L1058.8 652.1 L1060.4 654.7 L1061.9 657.3 L1063.4 659.8 L1065.0 662.4 L1066.5 665.0 L1068.1 667.5 L1069.6 670.1 L1071.1 672.7 L1072.7 675.2 L1074.2 677.8 L1075.8 680.3 L1077.4 682.9 L1078.9 685.4 L1080.5 688.0 L1082.0 690.5 L1083.6 693.0 L1085.2 695.6 L1086.8 698.1 L1088.3 700.6 L1089.9 703.1 L1091.5 705.6 L1093.1 708.2 L1094.7 710.7 L1096.3 713.2 L1097.9 715.7 L1099.5 718.2 L1101.1 720.6 L1102.8 723.1 L1104.4 725.6 L1106.0 728.1 L1107.7 730.5 L1109.3 733.0 L1111.0 735.5 L1112.6 737.9 L1114.3 740.4 L1115.9 742.8 L1117.6 745.2 L1119.3 747.7 L1121.0 750.1 L1122.7 752.5 L1124.4 754.9 L1126.1 757.3 L1127.8 759.7 L1129.5 762.1 L1131.2 764.5 L1133.0 766.9 L1134.7 769.3 L1136.5 771.6 L1138.2 774.0 L1140.0 776.3 L1141.8 778.7 L1143.5 781.0 L1145.3 783.3 L1147.1 785.7 L1148.9 788.0 L1150.8 790.3 L1152.6 792.6 L1154.4 794.9 L1156.3 797.2 L1158.1 799.4 L1160.0 801.7 L1161.8 804.0 L1163.7 806.2 L1165.6 808.4 L1167.5 810.7 L1169.4 812.9 L1171.3 815.1 L1173.3 817.3 L1175.2 819.5 L1177.2 821.7 L1179.1 823.9 L1181.1 826.0 L1183.1 828.2 L1185.1 830.3 L1187.1 832.4 L1189.1 834.6 L1191.1 836.7 L1193.2 838.7 L1195.2 840.8 L1197.3 842.9 L1199.4 844.9 L1201.5 847.0 L1203.6 849.0 L1205.7 851.0 L1207.9 853.0 L1210.0 854.9 L1212.2 856.9 L1214.3 858.8 L1216.5 860.7 L1218.7 862.6 L1220.9 864.5 L1223.2 866.4 L1225.4 868.2 L1227.7 870.0 L1230.0 871.8 L1232.2 873.6 L1234.6 875.4 L1236.9 877.1 L1239.2 878.9 L1241.6 880.6 L1243.9 882.2 L1246.3 883.9 L1248.7 885.6 L1251.1 887.2 L1253.5 888.8 L1256.0 890.4 L1258.4 892.0 L1260.9 893.5 L1263.4 895.0 L1265.8 896.6 L1268.3 898.1 L1270.9 899.5 L1273.4 901.0 L1275.9 902.4 L1278.5 903.9 L1281.0 905.3 L1283.6 906.7 L1286.2 908.1 L1288.8 909.4 L1291.4 910.8 L1294.0 912.1 L1296.6 913.4 L1299.3 914.7 L1301.9 916.0 L1304.6 917.3 L1307.2 918.5 L1309.9 919.8 L1312.6 921.0 L1315.3 922.2 L1318.0 923.4 L1320.7 924.6 L1323.4 925.7 L1326.1 926.9 L1328.9 928.0 L1331.6 929.2 L1334.4 930.3 L1337.1 931.4 L1339.9 932.5 L1342.7 933.5 L1345.4 934.6 L1348.2 935.7 L1351.0 936.7 L1353.8 937.7 L1356.6 938.7 L1359.4 939.7 L1362.2 940.7 L1365.0 941.7 L1367.9 942.7 L1370.7 943.6 L1373.5 944.6 L1376.4 945.5 L1379.2 946.4 L1382.1 947.3 L1384.9 948.3 L1387.8 949.1 L1390.6 950.0 L1393.5 950.9 L1396.3 951.8 L1399.2 952.6 L1402.1 953.5 L1405.0 954.3 L1407.8 955.2 L1410.7 956.0 L1413.6 956.8 L1416.5 957.6 L1419.3 958.4 L1422.2 959.2 L1425.1 960.0 L1428.0 960.8 L1430.9 961.5 L1433.8 962.3 L1436.7 963.0 L1439.6 963.8 L1442.5 964.5 L1445.4 965.2 L1448.3 966.0 L1451.2 966.7 L1454.1 967.4 L1457.0 968.1 L1459.9 968.8 L1462.8 969.5 L1465.7 970.1 L1468.6 970.8 L1471.5 971.5 L1474.4 972.1 L1477.3 972.8 L1480.3 973.4 L1483.2 974.0 L1486.1 974.7 L1489.0 975.3 L1491.9 975.9 L1494.9 976.5 L1497.8 977.1 L1500.7 977.7 L1503.6 978.3 L1506.6 978.9 L1509.5 979.4 L1512.4 980.0 L1515.4 980.6 L1518.3 981.1 L1521.2 981.7 L1524.2 982.2 L1527.1 982.7 L1530.0 983.3 L1533.0 983.8 L1535.9 984.3 L1538.9 984.8 L1541.8 985.3 L1544.8 985.8 L1547.7 986.3 L1550.7 986.8 L1553.6 987.2 L1556.6 987.7 L1559.5 988.2 L1562.5 988.6 L1565.4 989.1 L1568.4 989.5 L1571.3 990.0 L1574.3 990.4 L1577.2 990.8 L1580.2 991.2 L1583.2 991.7 L1586.1 992.1 L1589.1 992.5 L1592.0 992.9 L1595.0 993.3 L1598.0 993.7 L1600.9 994.1 L1603.9 994.4 L1606.9 994.8 L1609.9 995.2 L1612.8 995.5 L1615.8 995.9 L1618.8 996.2 L1621.7 996.6 L1624.7 996.9 L1627.7 997.3 L1630.7 997.6 L1633.6 997.9 L1636.6 998.3 L1639.6 998.6 L1642.6 998.9 L1645.6 999.2 L1648.5 999.5 L1651.5 999.8 L1654.5 1000.1 L1657.5 1000.4 L1660.5 1000.7 L1663.5 1000.9 L1666.5 1001.2 L1669.4 1001.5 L1672.4 1001.8 L1675.4 1002.0 L1678.4 1002.3 L1681.4 1002.5 L1684.4 1002.8 L1687.4 1003.0 L1690.4 1003.3 L1693.4 1003.5 L1696.4 1003.7 L1699.4 1004.0 L1702.3 1004.2 L1705.3 1004.4 L1708.3 1004.6 L1711.3 1004.8 L1714.3 1005.0 L1717.3 1005.3 L1720.3 1005.5 L1723.3 1005.7 L1726.3 1005.8 L1729.3 1006.0 L1732.3 1006.2 L1735.3 1006.4 L1738.3 1006.6 L1741.3 1006.8 L1744.3 1006.9 L1747.3 1007.1 L1750.3 1007.3 L1753.3 1007.4 L1756.3 1007.6 L1759.3 1007.8 L1762.4 1007.9 L1765.4 1008.1 L1768.4 1008.2 L1771.4 1008.3 L1774.4 1008.5 L1777.4 1008.6 L1780.4 1008.8 L1783.4 1008.9 L1786.4 1009.0 L1789.4 1009.2 L1792.4 1009.3 L1795.4 1009.4 L1798.4 1009.5 L1801.4 1009.6 L1804.4 1009.7 L1807.5 1009.9 L1810.5 1010.0 L1813.5 1010.1 L1816.5 1010.2 L1819.5 1010.3 L1822.5 1010.4 L1825.5 1010.5 L1828.5 1010.6 L1831.5 1010.7 L1834.5 1010.8 L1837.6 1010.8 L1840.6 1010.9 L1843.6 1011.0 L1846.6 1011.1 L1849.6 1011.2 L1852.6 1011.2 L1855.6 1011.3 L1858.6 1011.4 L1861.6 1011.5 L1864.6 1011.5 L1867.7 1011.6 L1870.7 1011.7 L1873.7 1011.7 L1876.7 1011.8 L1879.7 1011.9 L1882.7 1011.9 L1885.7 1012.0 L1888.7 1012.1 L1891.7 1012.1 L1894.7 1012.2 L1897.8 1012.2 L1900.8 1012.3 L1903.8 1012.3 L1906.8 1012.4 L1909.8 1012.4 L1912.8 1012.5 L1915.8 1012.5 L1918.8 1012.6 L1921.8 1012.6 L1924.8 1012.7 L1927.8 1012.7 L1930.9 1012.7 L1933.9 1012.8 L1936.9 1012.8 L1939.9 1012.9 L1942.9 1012.9 L1945.9 1012.9 L1948.9 1013.0 L1951.9 1013.0 L1954.9 1013.1 L1957.9 1013.1 L1960.9 1013.1 L1963.9 1013.2 L1966.9 1013.2 L1969.9 1013.2 L1972.9 1013.3 L1975.9 1013.3 L1978.9 1013.4 L1981.9 1013.4 L1984.9 1013.4 L1987.9 1013.5 L1990.9 1013.5 L1993.9 1013.5 L1996.9 1013.6 L1999.9 1013.6 L2002.9 1013.6 L2005.9 1013.7 L2008.9 1013.7 L2011.9 1013.7 L2014.9 1013.8 L2017.9 1013.8 L2020.9 1013.9 L2023.9 1013.9 L2026.9 1013.9 L2029.9 1014.0 L2032.9 1014.0 L2035.9 1014.0 L2038.8 1014.1 L2041.8 1014.1 L2044.8 1014.2 L2047.8 1014.2 L2050.8 1014.3 L2053.8 1014.3 L2056.8 1014.4 L2059.7 1014.4 L2062.7 1014.4 L2065.7 1014.5 L2068.7 1014.5 L2071.7 1014.6 L2074.7 1014.7 L2077.6 1014.7 L2080.6 1014.8 L2083.6 1014.8 L2086.6 1014.9 L2089.6 1014.9 L2092.5 1015.0 L2095.5 1015.1 L2098.5 1015.1 L2101.4 1015.2 L2104.4 1015.2 L2107.4 1015.3 L2110.4 1015.4 L2113.3 1015.5 L2116.3 1015.5 L2119.3 1015.6 L2122.2 1015.7 L2125.2 1015.8 L2128.2 1015.8 L2131.1 1015.9 L2134.0 1015.4" fill="none" stroke="#9bb76b" stroke-width="5.2" stroke-linejoin="round" stroke-linecap="butt"/>
<path d="M180.0 1154.6 L265.2 1156.0 L268.0 1154.4 L270.8 1152.7 L273.5 1150.9 L276.1 1149.1 L278.5 1147.2 L280.9 1145.3 L283.2 1143.3 L285.4 1141.3 L287.5 1139.2 L289.5 1137.0 L291.5 1134.8 L293.3 1132.6 L295.1 1130.3 L296.8 1127.9 L298.5 1125.6 L300.0 1123.1 L301.5 1120.7 L303.0 1118.2 L304.4 1115.7 L305.7 1113.1 L306.9 1110.5 L308.1 1107.8 L309.2 1105.2 L310.3 1102.5 L311.4 1099.7 L312.4 1097.0 L313.3 1094.2 L314.2 1091.4 L315.1 1088.6 L315.9 1085.7 L316.7 1082.8 L317.5 1080.0 L318.2 1077.0 L318.9 1074.1 L319.6 1071.2 L320.3 1068.2 L320.9 1065.3 L321.6 1062.3 L322.2 1059.3 L322.8 1056.3 L323.3 1053.3 L323.9 1050.3 L324.5 1047.3 L325.1 1044.3 L325.6 1041.3 L326.2 1038.3 L326.8 1035.3 L327.4 1032.3 L328.0 1029.4 L328.5 1026.4 L329.1 1023.4 L329.8 1020.4 L330.4 1017.4 L331.0 1014.5 L331.6 1011.5 L332.2 1008.5 L332.9 1005.6 L333.5 1002.6 L334.1 999.7 L334.8 996.7 L335.4 993.8 L336.1 990.8 L336.8 987.9 L337.4 985.0 L338.1 982.0 L338.7 979.1 L339.4 976.2 L340.1 973.3 L340.8 970.3 L341.5 967.4 L342.1 964.5 L342.8 961.6 L343.5 958.6 L344.2 955.7 L344.9 952.8 L345.6 949.9 L346.3 947.0 L347.0 944.1 L347.7 941.2 L348.4 938.3 L349.1 935.4 L349.8 932.5 L350.5 929.6 L351.2 926.7 L351.8 923.8 L352.5 920.8 L353.2 917.9 L353.9 915.0 L354.6 912.1 L355.3 909.2 L356.0 906.3 L356.7 903.4 L357.4 900.5 L358.1 897.6 L358.8 894.7 L359.5 891.8 L360.2 888.9 L360.8 886.0 L361.5 883.1 L362.2 880.2 L362.9 877.3 L363.5 874.4 L364.2 871.5 L364.9 868.6 L365.5 865.7 L366.2 862.7 L366.8 859.8 L367.5 856.9 L368.1 854.0 L368.8 851.1 L369.4 848.2 L370.1 845.2 L370.7 842.3 L371.4 839.4 L372.0 836.5 L372.6 833.6 L373.3 830.6 L373.9 827.7 L374.5 824.8 L375.1 821.9 L375.8 818.9 L376.4 816.0 L377.0 813.1 L377.6 810.1 L378.2 807.2 L378.8 804.3 L379.4 801.4 L380.1 798.4 L380.7 795.5 L381.3 792.6 L381.9 789.6 L382.5 786.7 L383.1 783.8 L383.7 780.8 L384.3 777.9 L384.9 774.9 L385.5 772.0 L386.1 769.1 L386.7 766.1 L387.2 763.2 L387.8 760.3 L388.4 757.3 L389.0 754.4 L389.6 751.4 L390.2 748.5 L390.8 745.6 L391.4 742.6 L391.9 739.7 L392.5 736.7 L393.1 733.8 L393.7 730.8 L394.3 727.9 L394.8 724.9 L395.4 722.0 L396.0 719.1 L396.6 716.1 L397.2 713.2 L397.7 710.2 L398.3 707.3 L398.9 704.3 L399.5 701.4 L400.0 698.4 L400.6 695.5 L401.2 692.5 L401.8 689.6 L402.3 686.6 L402.9 683.7 L403.5 680.8 L404.1 677.8 L404.6 674.9 L405.2 671.9 L405.8 669.0 L406.4 666.0 L406.9 663.1 L407.5 660.1 L408.1 657.2 L408.7 654.2 L409.2 651.3 L409.8 648.3 L410.4 645.4 L411.0 642.4 L411.6 639.5 L412.1 636.5 L412.7 633.6 L413.3 630.6 L413.9 627.7 L414.5 624.7 L415.0 621.8 L415.6 618.8 L416.2 615.9 L416.8 612.9 L417.4 610.0 L418.0 607.1 L418.6 604.1 L419.2 601.2 L419.8 598.2 L420.4 595.3 L420.9 592.3 L421.5 589.4 L422.1 586.4 L422.7 583.5 L423.3 580.5 L423.9 577.6 L424.6 574.7 L425.2 571.7 L425.8 568.8 L426.4 565.8 L427.0 562.9 L427.6 560.0 L428.2 557.0 L428.8 554.1 L429.4 551.1 L430.1 548.2 L430.7 545.3 L431.3 542.3 L431.9 539.4 L432.6 536.4 L433.2 533.5 L433.8 530.6 L434.5 527.6 L435.1 524.7 L435.8 521.8 L436.4 518.8 L437.0 515.9 L437.7 513.0 L438.3 510.0 L439.0 507.1 L439.7 504.2 L440.3 501.3 L441.0 498.3 L441.6 495.4 L442.3 492.5 L443.0 489.5 L443.7 486.6 L444.3 483.7 L445.0 480.8 L445.7 477.9 L446.4 474.9 L447.1 472.0 L447.8 469.1 L448.5 466.2 L449.2 463.3 L449.9 460.3 L450.6 457.4 L451.3 454.5 L452.0 451.6 L452.7 448.7 L453.4 445.8 L454.1 442.9 L454.9 439.9 L455.6 437.0 L456.3 434.1 L457.1 431.2 L457.8 428.3 L458.5 425.4 L459.3 422.5 L460.1 419.6 L460.8 416.7 L461.6 413.8 L462.3 410.9 L463.1 408.0 L463.9 405.1 L464.7 402.2 L465.4 399.3 L466.2 396.4 L467.0 393.5 L467.8 390.7 L468.6 387.8 L469.4 384.9 L470.2 382.0 L471.0 379.1 L471.9 376.2 L472.7 373.3 L473.5 370.5 L474.3 367.6 L475.2 364.7 L476.0 361.8 L476.9 359.0 L477.7 356.1 L478.6 353.2 L479.4 350.3 L480.3 347.5 L481.2 344.6 L482.0 341.7 L482.9 338.9 L483.8 336.0 L484.7 333.1 L485.6 330.3 L486.5 327.4 L487.4 324.6 L488.3 321.7 L489.3 318.9 L490.2 316.0 L491.1 313.2 L492.1 310.3 L493.0 307.5 L494.0 304.7 L494.9 301.8 L495.9 299.0 L496.9 296.1 L497.8 293.3 L498.8 290.5 L499.8 287.7 L500.8 284.8 L501.8 282.0 L502.8 279.2 L503.9 276.4 L504.9 273.6 L505.9 270.8 L507.0 268.0 L508.0 265.2 L509.1 262.4 L510.1 259.6 L511.2 256.8 L512.3 254.0 L513.4 251.2 L514.5 248.4 L515.6 245.6 L516.7 242.9 L517.8 240.1 L518.9 237.3 L520.1 234.6 L521.2 231.8 L522.4 229.0 L523.5 226.3 L524.7 223.5 L525.9 220.8 L527.1 218.1 L528.3 215.3 L529.5 212.6 L530.7 209.9 L531.9 207.1 L533.2 204.4 L534.4 201.7 L535.7 199.0 L536.9 196.3 L538.2 193.6 L539.5 190.9 L540.8 188.2 L542.1 185.5 L543.4 182.8 L544.7 180.1 L546.0 177.4 L547.4 174.8 L548.7 172.1 L550.1 169.4 L551.5 166.8 L552.8 164.1 L554.2 161.5 L555.6 158.8 L557.0 156.1 L558.3 153.5 L559.7 150.8 L561.0 148.1 L562.3 145.4 L563.6 142.7 L564.9 139.9 L566.2 137.2 L567.4 134.4 L568.7 131.7 L570.1 129.0 L571.7 126.5 L573.4 124.2 L575.5 122.0 L577.7 120.1 L580.2 118.4 L582.8 116.9 L585.5 115.6 L588.3 114.5 L591.3 113.6 L594.2 112.8 L597.2 112.2 L600.1 111.8 L603.1 111.4 L606.0 111.0 L608.9 110.7 L611.7 110.3 L614.5 109.8 L617.3 109.2 L620.1 108.5 L622.9 107.8 L625.8 107.2 L628.7 106.6 L631.7 106.2 L634.7 105.8 L637.7 105.6 L640.8 105.5 L643.8 105.5 L646.8 105.7 L649.8 106.1 L652.7 106.6 L655.6 107.2 L658.4 108.1 L661.2 109.1 L663.9 110.2 L666.6 111.4 L669.3 112.8 L671.9 114.2 L674.5 115.8 L677.1 117.4 L679.6 119.0 L682.2 120.7 L684.7 122.4 L687.2 124.2 L689.7 125.9 L692.3 127.6 L694.8 129.3 L697.3 131.0 L699.9 132.7 L702.4 134.4 L705.0 136.0 L707.5 137.6 L710.1 139.2 L712.7 140.8 L715.2 142.4 L717.8 143.9 L720.4 145.5 L722.9 147.0 L725.5 148.6 L728.1 150.2 L730.6 151.7 L733.2 153.3 L735.7 154.8 L738.3 156.4 L740.8 158.0 L743.3 159.6 L745.8 161.2 L748.4 162.8 L750.9 164.4 L753.3 166.0 L755.8 167.7 L758.3 169.3 L760.8 171.0 L763.2 172.7 L765.7 174.4 L768.1 176.1 L770.5 177.8 L773.0 179.5 L775.4 181.3 L777.8 183.0 L780.2 184.8 L782.6 186.6 L785.0 188.4 L787.3 190.2 L789.7 192.0 L792.0 193.8 L794.4 195.6 L796.7 197.5 L799.1 199.4 L801.4 201.2 L803.7 203.1 L806.0 205.0 L808.3 206.9 L810.6 208.8 L812.9 210.7 L815.2 212.6 L817.4 214.6 L819.7 216.5 L821.9 218.5 L824.2 220.5 L826.4 222.4 L828.6 224.4 L830.9 226.4 L833.1 228.4 L835.3 230.4 L837.5 232.5 L839.7 234.5 L841.8 236.5 L844.0 238.6 L846.2 240.6 L848.4 242.7 L850.5 244.8 L852.7 246.9 L854.8 249.0 L856.9 251.1 L859.0 253.2 L861.2 255.3 L863.3 257.4 L865.4 259.6 L867.5 261.7 L869.6 263.9 L871.6 266.0 L873.7 268.2 L875.8 270.4 L877.9 272.5 L879.9 274.7 L882.0 276.9 L884.0 279.1 L886.0 281.3 L888.1 283.5 L890.1 285.8 L892.1 288.0 L894.1 290.2 L896.1 292.5 L898.1 294.7 L900.1 297.0 L902.1 299.2 L904.1 301.5 L906.0 303.8 L908.0 306.1 L910.0 308.3 L911.9 310.6 L913.8 312.9 L915.8 315.2 L917.7 317.5 L919.7 319.9 L921.6 322.2 L923.5 324.5 L925.4 326.8 L927.3 329.2 L929.2 331.5 L931.1 333.8 L933.0 336.2 L934.9 338.5 L936.7 340.9 L938.6 343.3 L940.5 345.6 L942.3 348.0 L944.2 350.4 L946.0 352.7 L947.9 355.1 L949.7 357.5 L951.5 359.9 L953.4 362.3 L955.2 364.7 L957.0 367.1 L958.8 369.5 L960.6 371.9 L962.4 374.3 L964.2 376.7 L966.0 379.1 L967.8 381.6 L969.6 384.0 L971.3 386.4 L973.1 388.8 L974.9 391.3 L976.6 393.7 L978.4 396.1 L980.1 398.6 L981.9 401.0 L983.6 403.4 L985.4 405.9 L987.1 408.3 L988.8 410.8 L990.5 413.2 L992.2 415.7 L993.9 418.2 L995.7 420.6 L997.4 423.1 L999.0 425.6 L1000.7 428.0 L1002.4 430.5 L1004.1 433.0 L1005.8 435.5 L1007.4 438.0 L1009.1 440.5 L1010.8 442.9 L1012.4 445.4 L1014.1 447.9 L1015.7 450.4 L1017.3 452.9 L1019.0 455.5 L1020.6 458.0 L1022.2 460.5 L1023.8 463.0 L1025.5 465.5 L1027.1 468.0 L1028.7 470.6 L1030.3 473.1 L1031.8 475.6 L1033.4 478.2 L1035.0 480.7 L1036.6 483.3 L1038.2 485.8 L1039.7 488.4 L1041.3 490.9 L1042.8 493.5 L1044.4 496.0 L1045.9 498.6 L1047.5 501.2 L1049.0 503.7 L1050.5 506.3 L1052.1 508.9 L1053.6 511.5 L1055.1 514.1 L1056.6 516.7 L1058.1 519.3 L1059.6 521.9 L1061.1 524.5 L1062.6 527.1 L1064.1 529.7 L1065.6 532.3 L1067.0 534.9 L1068.5 537.5 L1070.0 540.1 L1071.5 542.7 L1073.0 545.3 L1074.4 547.9 L1075.9 550.6 L1077.4 553.2 L1078.8 555.8 L1080.3 558.4 L1081.7 561.1 L1083.2 563.7 L1084.7 566.3 L1086.1 568.9 L1087.6 571.5 L1089.1 574.2 L1090.5 576.8 L1092.0 579.4 L1093.4 582.0 L1094.9 584.7 L1096.4 587.3 L1097.8 589.9 L1099.3 592.5 L1100.8 595.2 L1102.2 597.8 L1103.7 600.4 L1105.2 603.0 L1106.7 605.6 L1108.1 608.2 L1109.6 610.8 L1111.1 613.5 L1112.6 616.1 L1114.1 618.7 L1115.6 621.3 L1117.1 623.9 L1118.6 626.5 L1120.1 629.1 L1121.6 631.6 L1123.1 634.2 L1124.6 636.8 L1126.2 639.4 L1127.7 642.0 L1129.2 644.5 L1130.8 647.1 L1132.3 649.7 L1133.9 652.2 L1135.5 654.8 L1137.0 657.3 L1138.6 659.9 L1140.2 662.4 L1141.8 665.0 L1143.4 667.5 L1145.0 670.0 L1146.6 672.5 L1148.2 675.1 L1149.8 677.6 L1151.5 680.1 L1153.1 682.6 L1154.8 685.1 L1156.5 687.6 L1158.1 690.0 L1159.8 692.5 L1161.5 695.0 L1163.2 697.4 L1164.9 699.9 L1166.7 702.3 L1168.4 704.8 L1170.1 707.2 L1171.9 709.6 L1173.7 712.0 L1175.4 714.5 L1177.2 716.9 L1179.0 719.2 L1180.9 721.6 L1182.7 724.0 L1184.5 726.4 L1186.4 728.7 L1188.2 731.1 L1190.1 733.4 L1192.0 735.8 L1193.9 738.1 L1195.8 740.4 L1197.7 742.7 L1199.6 745.0 L1201.6 747.3 L1203.5 749.6 L1205.5 751.9 L1207.5 754.1 L1209.4 756.4 L1211.4 758.6 L1213.4 760.9 L1215.5 763.1 L1217.5 765.3 L1219.5 767.5 L1221.6 769.7 L1223.6 771.9 L1225.7 774.1 L1227.8 776.2 L1229.9 778.4 L1232.0 780.5 L1234.1 782.7 L1236.2 784.8 L1238.3 786.9 L1240.5 789.0 L1242.6 791.1 L1244.8 793.2 L1246.9 795.3 L1249.1 797.4 L1251.3 799.4 L1253.5 801.5 L1255.7 803.5 L1258.0 805.5 L1260.2 807.5 L1262.4 809.5 L1264.7 811.5 L1266.9 813.5 L1269.2 815.4 L1271.5 817.4 L1273.8 819.3 L1276.1 821.3 L1278.4 823.2 L1280.7 825.1 L1283.0 827.0 L1285.4 828.9 L1287.7 830.7 L1290.1 832.6 L1292.4 834.4 L1294.8 836.3 L1297.2 838.1 L1299.6 839.9 L1302.0 841.7 L1304.4 843.5 L1306.8 845.2 L1309.2 847.0 L1311.7 848.7 L1314.1 850.5 L1316.5 852.2 L1319.0 853.9 L1321.5 855.6 L1324.0 857.3 L1326.4 858.9 L1328.9 860.6 L1331.4 862.2 L1334.0 863.9 L1336.5 865.5 L1339.0 867.1 L1341.5 868.7 L1344.1 870.2 L1346.6 871.8 L1349.2 873.3 L1351.8 874.9 L1354.4 876.4 L1356.9 877.9 L1359.5 879.4 L1362.1 880.8 L1364.7 882.3 L1367.4 883.7 L1370.0 885.2 L1372.6 886.6 L1375.3 888.0 L1377.9 889.4 L1380.6 890.7 L1383.2 892.1 L1385.9 893.4 L1388.6 894.8 L1391.3 896.1 L1394.0 897.4 L1396.7 898.6 L1399.4 899.9 L1402.1 901.1 L1404.8 902.4 L1407.5 903.6 L1410.3 904.8 L1413.0 906.0 L1415.8 907.1 L1418.5 908.3 L1421.3 909.4 L1424.0 910.5 L1426.8 911.7 L1429.6 912.7 L1432.4 913.8 L1435.2 914.9 L1438.0 915.9 L1440.8 916.9 L1443.6 917.9 L1446.5 918.9 L1449.3 919.9 L1452.1 920.8 L1455.0 921.8 L1457.8 922.7 L1460.7 923.6 L1463.5 924.5 L1466.4 925.4 L1469.3 926.2 L1472.2 927.0 L1475.0 927.9 L1477.9 928.7 L1480.8 929.4 L1483.7 930.2 L1486.6 931.0 L1489.6 931.7 L1492.5 932.4 L1495.4 933.1 L1498.3 933.8 L1501.2 934.5 L1504.2 935.2 L1507.1 935.8 L1510.1 936.5 L1513.0 937.1 L1515.9 937.7 L1518.9 938.4 L1521.9 939.0 L1524.8 939.6 L1527.8 940.1 L1530.7 940.7 L1533.7 941.3 L1536.7 941.8 L1539.6 942.4 L1542.6 942.9 L1545.6 943.5 L1548.5 944.0 L1551.5 944.5 L1554.5 945.0 L1557.4 945.6 L1560.4 946.1 L1563.4 946.6 L1566.4 947.1 L1569.3 947.6 L1572.3 948.1 L1575.3 948.5 L1578.3 949.0 L1581.2 949.5 L1584.2 950.0 L1587.2 950.5 L1590.1 950.9 L1593.1 951.4 L1596.1 951.9 L1599.0 952.3 L1602.0 952.8 L1605.0 953.2 L1608.0 953.7 L1610.9 954.1 L1613.9 954.6 L1616.9 955.0 L1619.8 955.5 L1622.8 955.9 L1625.8 956.3 L1628.7 956.8 L1631.7 957.2 L1634.7 957.6 L1637.6 958.0 L1640.6 958.4 L1643.6 958.9 L1646.6 959.3 L1649.5 959.7 L1652.5 960.1 L1655.5 960.5 L1658.4 960.9 L1661.4 961.3 L1664.4 961.7 L1667.3 962.1 L1670.3 962.5 L1673.3 962.8 L1676.2 963.2 L1679.2 963.6 L1682.2 964.0 L1685.1 964.3 L1688.1 964.7 L1691.1 965.1 L1694.0 965.5 L1697.0 965.8 L1700.0 966.2 L1703.0 966.5 L1705.9 966.9 L1708.9 967.2 L1711.9 967.6 L1714.8 967.9 L1717.8 968.3 L1720.8 968.6 L1723.7 969.0 L1726.7 969.3 L1729.7 969.6 L1732.7 970.0 L1735.6 970.3 L1738.6 970.6 L1741.6 970.9 L1744.6 971.3 L1747.5 971.6 L1750.5 971.9 L1753.5 972.2 L1756.4 972.5 L1759.4 972.8 L1762.4 973.2 L1765.4 973.5 L1768.3 973.8 L1771.3 974.1 L1774.3 974.4 L1777.3 974.7 L1780.2 975.0 L1783.2 975.3 L1786.2 975.5 L1789.2 975.8 L1792.2 976.1 L1795.1 976.4 L1798.1 976.7 L1801.1 977.0 L1804.1 977.2 L1807.1 977.5 L1810.0 977.8 L1813.0 978.1 L1816.0 978.3 L1819.0 978.6 L1822.0 978.9 L1825.0 979.1 L1827.9 979.4 L1830.9 979.7 L1833.9 979.9 L1836.9 980.2 L1839.9 980.4 L1842.9 980.7 L1845.9 981.0 L1848.8 981.2 L1851.8 981.5 L1854.8 981.7 L1857.8 981.9 L1860.8 982.2 L1863.8 982.4 L1866.8 982.7 L1869.8 982.9 L1872.8 983.1 L1875.8 983.4 L1878.8 983.6 L1881.7 983.8 L1884.7 984.1 L1887.7 984.3 L1890.7 984.5 L1893.7 984.7 L1896.7 985.0 L1899.7 985.2 L1902.7 985.4 L1905.7 985.6 L1908.7 985.8 L1911.7 986.0 L1914.7 986.2 L1917.7 986.4 L1920.7 986.7 L1923.7 986.9 L1926.7 987.1 L1929.7 987.3 L1932.7 987.5 L1935.7 987.6 L1938.7 987.8 L1941.7 988.0 L1944.7 988.2 L1947.7 988.4 L1950.7 988.6 L1953.7 988.8 L1956.7 989.0 L1959.7 989.1 L1962.7 989.3 L1965.7 989.5 L1968.7 989.7 L1971.7 989.8 L1974.7 990.0 L1977.7 990.2 L1980.7 990.3 L1983.7 990.5 L1986.7 990.6 L1989.7 990.8 L1992.7 991.0 L1995.7 991.1 L1998.7 991.3 L2001.7 991.4 L2004.7 991.6 L2007.7 991.7 L2010.7 991.8 L2013.7 992.0 L2016.7 992.1 L2019.7 992.3 L2022.7 992.4 L2025.7 992.5 L2028.7 992.7 L2031.7 992.8 L2034.7 992.9 L2037.7 993.0 L2040.7 993.2 L2043.7 993.3 L2046.7 993.4 L2049.7 993.5 L2052.7 993.6 L2055.7 993.7 L2058.7 993.8 L2061.7 993.9 L2064.7 994.1 L2067.7 994.2 L2070.7 994.3 L2073.7 994.3 L2076.6 994.4 L2079.6 994.5 L2082.6 994.6 L2085.6 994.7 L2088.6 994.8 L2091.6 994.9 L2094.6 995.0 L2097.6 995.0 L2100.6 995.1 L2103.6 995.2 L2106.6 995.3 L2109.6 995.3 L2112.6 995.4 L2115.6 995.5 L2118.5 995.5 L2121.5 995.6 L2124.5 995.6 L2127.5 995.7 L2130.5 995.8 L2134.0 995.8" fill="none" stroke="#7d6594" stroke-width="5.2" stroke-linejoin="round" stroke-linecap="butt"/>
<path d="M180.0 1078.0 L184.0 1060.0 L190.0 1046.0 L196.0 1040.0 L203.0 1035.5 L212.0 1030.0 L220.4 1025.5 L235.5 1022.0 L258.2 1021.8 L260.5 1035.6 L270.0 1037.0 L283.4 1040.7 L321.2 1041.9 L360.0 1039.5 L396.9 1035.6 L402.5 1035.0 L405.0 1030.5 L411.9 1030.8 L423.8 1033.1 L435.8 1035.2 L442.0 1031.5 L451.5 1025.5 L462.5 1026.2 L469.0 1027.5 L476.2 1026.0 L490.0 1023.5 L503.7 1019.8 L517.5 1016.2 L545.0 1014.0 L579.4 1011.8 L600.0 1010.8 L624.7 1009.7 L626.3 1009.7 L627.0 999.5 L638.2 999.5 L655.0 998.9 L693.3 996.7 L721.0 994.4 L821.9 991.4 L922.9 988.3 L1000.0 986.3 L1175.7 985.7 L1178.9 980.2 L1400.0 980.2 L2134.0 980.9" fill="none" stroke="#48a6b8" stroke-width="5.2" stroke-linejoin="round"/>
<line x1="642.6" y1="100.5" x2="750.5" y2="51.8" stroke="#222" stroke-width="1.7"/>
<text x="775" y="65.8" font-family="'Liberation Serif', serif" font-size="37" fill="#2a2a2a">422 nm</text>
<line x1="655.5" y1="221.8" x2="856" y2="172.2" stroke="#222" stroke-width="1.7"/>
<text x="881.5" y="185" font-family="'Liberation Serif', serif" font-size="37" fill="#2a2a2a">423 nm</text>
<line x1="654" y1="543.2" x2="654" y2="594" stroke="#222" stroke-width="1.8"/>
<text x="592.1" y="522.7" font-family="'Liberation Serif', serif" font-size="37" fill="#2a2a2a">423 nm</text>
<line x1="629.5" y1="711.5" x2="629.5" y2="763" stroke="#222" stroke-width="1.8"/>
<text x="569" y="691.8" font-family="'Liberation Serif', serif" font-size="37" fill="#2a2a2a">418 nm</text>
<line x1="1780.5" y1="129" x2="1846" y2="129" stroke="#4e7caa" stroke-width="5.2"/>
<text x="1850.5" y="142.8" font-family="'Liberation Serif', serif" font-size="43.5" fill="#2a2a2a">5 min</text>
<line x1="1780.5" y1="195.6" x2="1846" y2="195.6" stroke="#b25554" stroke-width="5.2"/>
<text x="1850.5" y="209.4" font-family="'Liberation Serif', serif" font-size="43.5" fill="#2a2a2a">15 min</text>
<line x1="1780.5" y1="261.5" x2="1846" y2="261.5" stroke="#9bb76b" stroke-width="5.2"/>
<text x="1850.5" y="275.3" font-family="'Liberation Serif', serif" font-size="43.5" fill="#2a2a2a">30 min</text>
<line x1="1780.5" y1="328" x2="1846" y2="328" stroke="#7d6594" stroke-width="5.2"/>
<text x="1850.5" y="341.8" font-family="'Liberation Serif', serif" font-size="43.5" fill="#2a2a2a">60 min</text>
<line x1="1780.5" y1="394.6" x2="1846" y2="394.6" stroke="#48a6b8" stroke-width="5.2"/>
<text x="1850.5" y="408.4" font-family="'Liberation Serif', serif" font-size="43.5" fill="#2a2a2a">CFE</text>
</g>
</svg>
</body></html>
